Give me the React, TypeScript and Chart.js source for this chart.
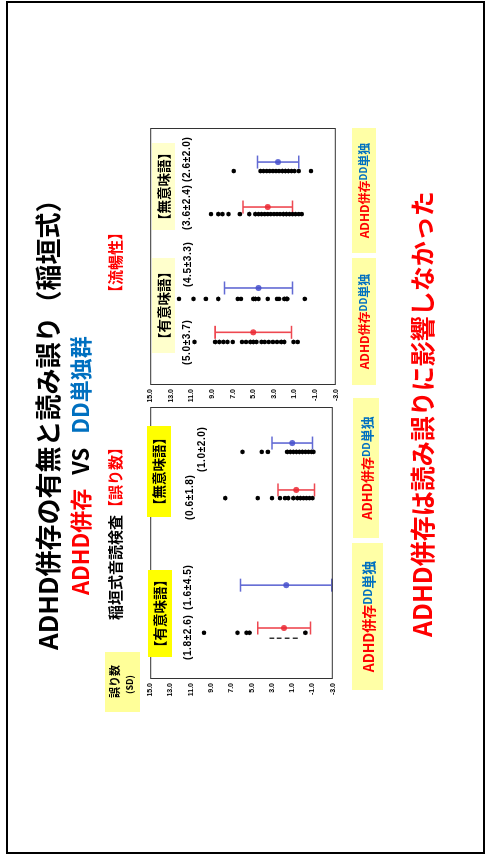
import React, { useEffect, useRef } from "react";
import { Chart, registerables } from "chart.js";

Chart.register(...registerables);

// Value axis (both panels)
const axisMin = -3;
const axisMax = 15;
const axisStep = 2;

// Word-type headings
const groupNames = ["【有意味語】", "【無意味語】"];

// Group order: ADHD併存・有意味語, DD単独・有意味語, ADHD併存・無意味語, DD単独・無意味語
const groupColors = ["rgba(235,40,50,0.85)", "rgba(70,80,205,0.85)", "rgba(235,40,50,0.85)", "rgba(70,80,205,0.85)"];

// 誤り数 — mean and SD per group
const errMeans = [1.8, 1.6, 0.6, 1.0];
const errSds = [2.6, 4.5, 1.8, 2.0];
// 誤り数 — individual values per group
const errAdhdMeaningful = [9.7, 6.4, 5.5, 5.2, -0.3];
const errAdhdMeaningfulHidden = [3.0, 2.3, 1.5, 0.7];
const errDdMeaningful: number[] = [];
const errAdhdNonword = [7.6, 4.4, 3.0, 2.2, 1.7, 1.4, 0.9, 0.5, 0.2, -0.1, -0.4, -0.7, -1.0];
const errDdNonword = [5.9, 4.0, 3.4, 1.5, 1.2, 0.9, 0.6, 0.3, 0.0, -0.3, -0.6, -0.9, -1.1];

// 流暢性 — mean and SD per group
const fluMeans = [5.0, 4.5, 3.6, 2.6];
const fluSds = [3.7, 3.3, 2.4, 2.0];
// 流暢性 — individual values per group
const fluAdhdMeaningful = [10.7, 8.7, 8.3, 7.9, 7.5, 7.0, 6.1, 5.7, 5.3, 5.0, 4.7, 4.2, 3.9, 3.5, 3.1, 2.7, 2.3, 2.0, 1.1, 0.7];
const fluDdMeaningful = [12.2, 10.8, 9.6, 8.4, 6.5, 6.2, 5.0, 4.8, 4.5, 3.6, 2.7, 2.5, 2.0, 1.8, 1.7, 0.0];
const fluAdhdNonword = [9.1, 8.4, 8.0, 7.4, 6.3, 5.4, 4.8, 4.5, 4.2, 3.9, 3.6, 3.3, 3.0, 2.7, 2.4, 2.1, 1.8, 1.5, 1.2, 0.9, 0.6, 0.3];
const fluDdNonword = [6.9, 4.3, 4.0, 3.7, 3.4, 3.1, 2.8, 2.5, 2.2, 1.9, 1.6, 1.3, 1.0, 0.6, -0.6];

// Horizontal slots inside each panel (x scale runs 0..4)
const errBarX = [0.75, 1.38, 2.78, 3.47];
const errDotX = [0.68, 1.3, 2.66, 3.34];
const errHiddenX = 0.6;
const fluBarX = [0.82, 1.51, 2.77, 3.47];
const fluDotX = [0.67, 1.34, 2.66, 3.33];

const RED = "#ff0000";
const BLUE = "#0070c0";
const CJK = '"Noto Sans CJK JP", "Noto Sans", sans-serif';

type PanelProps = {
  dots: number[][];
  dotX: number[];
  means: number[];
  sds: number[];
  barX: number[];
  hidden?: number[];
  hiddenX?: number;
  left: number;
  top: number;
  plotW: number;
  plotH: number;
};

const AXIS_W = 30;
const PAD = 6;

function Panel(p: PanelProps) {
  const ref = useRef<HTMLCanvasElement>(null);
  const cw = p.plotW + AXIS_W + PAD * 2;
  const ch = p.plotH + PAD * 2;

  useEffect(() => {
    if (!ref.current) return;
    const datasets: any[] = p.dots.map((vals, i) => ({
      data: vals.map((v) => ({ x: p.dotX[i], y: v })),
      pointRadius: 2.3,
      pointBackgroundColor: "#000",
      pointBorderWidth: 0,
      order: 2,
    }));
    if (p.hidden && p.hidden.length) {
      datasets.push({
        data: p.hidden.map((v) => ({ x: p.hiddenX, y: v })),
        pointStyle: "line",
        pointRotation: 90,
        pointRadius: 2.4,
        pointBorderColor: "#000",
        pointBorderWidth: 1.2,
        order: 2,
      });
    }
    datasets.push({
      data: p.means.map((m, i) => ({ x: p.barX[i], y: m })),
      pointRadius: 3,
      pointBackgroundColor: groupColors,
      pointBorderColor: groupColors,
      pointBorderWidth: 0,
      order: 1,
    });

    const errorBars = {
      id: "errorBars",
      beforeDatasetsDraw(chart: any) {
        const { ctx, scales } = chart;
        const xs = scales.x;
        const ys = scales.y;
        ctx.save();
        ctx.lineWidth = 1.6;
        p.means.forEach((m, i) => {
          const px = xs.getPixelForValue(p.barX[i]);
          const hi = ys.getPixelForValue(m + p.sds[i]);
          const lo = ys.getPixelForValue(m - p.sds[i]);
          ctx.strokeStyle = groupColors[i];
          ctx.beginPath();
          ctx.moveTo(px, hi);
          ctx.lineTo(px, lo);
          ctx.moveTo(px - 6.5, hi);
          ctx.lineTo(px + 6.5, hi);
          ctx.moveTo(px - 6.5, lo);
          ctx.lineTo(px + 6.5, lo);
          ctx.stroke();
        });
        ctx.restore();
      },
    };
    const frame = {
      id: "frame",
      afterDraw(chart: any) {
        const { ctx, chartArea: a } = chart;
        ctx.save();
        ctx.strokeStyle = "#333";
        ctx.lineWidth = 1;
        ctx.strokeRect(a.left + 0.5, a.top + 0.5, a.right - a.left - 1, a.bottom - a.top - 1);
        ctx.restore();
      },
    };

    const chart = new Chart(ref.current, {
      type: "scatter",
      data: { datasets },
      options: {
        responsive: false,
        animation: false,
        devicePixelRatio: 1,
        layout: { padding: { left: PAD, right: PAD, top: PAD, bottom: PAD } },
        plugins: { legend: { display: false }, tooltip: { enabled: false } },
        scales: {
          x: { type: "linear", min: 0, max: 4, display: false },
          y: {
            type: "linear",
            min: axisMin,
            max: axisMax,
            afterFit: (s: any) => {
              s.width = AXIS_W;
            },
            grid: { display: false, drawTicks: false },
            border: { display: false },
            ticks: {
              stepSize: axisStep,
              padding: 4,
              color: "#000",
              font: { family: "Liberation Sans", size: 7, weight: "bold" },
              callback: (v: any) => Number(v).toFixed(1),
            },
          },
        },
      },
      plugins: [errorBars, frame],
    } as any);
    return () => chart.destroy();
  }, []);

  return (
    <canvas
      ref={ref}
      width={cw}
      height={ch}
      style={{ position: "absolute", left: p.left - AXIS_W - PAD, top: p.top - PAD, width: cw, height: ch }}
    />
  );
}

function Txt(props: {
  l: number;
  t: number;
  size: number;
  color?: string;
  bold?: boolean;
  children: React.ReactNode;
  family?: string;
  spacing?: number;
}) {
  return (
    <div
      style={{
        position: "absolute",
        left: props.l,
        top: props.t,
        fontSize: props.size,
        fontWeight: props.bold ? 700 : 400,
        color: props.color || "#000",
        fontFamily: props.family || CJK,
        letterSpacing: props.spacing || 0,
        whiteSpace: "nowrap",
        lineHeight: 1,
      }}
    >
      {props.children}
    </div>
  );
}

function Box(props: { l: number; t: number; w: number; h: number; bg: string; size: number; children: React.ReactNode }) {
  return (
    <div
      style={{
        position: "absolute",
        left: props.l,
        top: props.t,
        width: props.w,
        height: props.h,
        background: props.bg,
        display: "flex",
        alignItems: "center",
        justifyContent: "center",
        fontSize: props.size,
        fontWeight: 700,
        fontFamily: CJK,
        whiteSpace: "nowrap",
        lineHeight: 1,
      }}
    >
      {props.children}
    </div>
  );
}

function GroupTag(props: { l: number; t: number; w: number; h: number; size: number }) {
  return (
    <Box l={props.l} t={props.t} w={props.w} h={props.h} bg="#ffffa6" size={props.size}>
      <span style={{ color: RED }}>ADHD併存</span>
      <span style={{ color: BLUE, fontSize: props.size * 0.8 }}>DD</span>
      <span style={{ color: BLUE }}>単独</span>
    </Box>
  );
}

const stat = '"Liberation Sans", sans-serif';

function Stat(props: { l: number; t: number; m: number; s: number }) {
  return (
    <Txt l={props.l} t={props.t} size={10} bold family={stat} spacing={0.6}>
      ({props.m.toFixed(1)}±{props.s.toFixed(1)})
    </Txt>
  );
}

export default function App() {
  return (
    <div
      style={{
        position: "fixed",
        left: 0,
        top: 0,
        width: 856,
        height: 485,
        background: "#fff",
        transformOrigin: "0 0",
        transform: "translate(0px, 856px) rotate(-90deg)",
        overflow: "hidden",
      }}
    >
      <div
        style={{
          position: "absolute",
          left: 2,
          top: 6,
          width: 853,
          height: 479,
          border: "2px solid #000",
          boxSizing: "border-box",
        }}
      />

      <Txt l={206} t={34} size={26} bold>
        ADHD併存の有無と読み誤り（稲垣式）
      </Txt>
      <Txt l={261} t={68} size={22} bold>
        <span style={{ color: RED }}>ADHD併存</span>
        <span style={{ color: "#000", margin: "0 14px" }}>VS</span>
        <span style={{ color: BLUE }}>DD単独群</span>
      </Txt>
      <Txt l={236} t={107} size={15} bold>
        稲垣式音読検査<span style={{ color: RED }}>【誤り数】</span>
      </Txt>
      <Txt l={556} t={107} size={15} bold color={RED}>
        【流暢性】
      </Txt>

      <div
        style={{
          position: "absolute",
          left: 144,
          top: 105,
          width: 60,
          height: 35,
          background: "#ffff99",
          fontFamily: CJK,
          fontWeight: 700,
          lineHeight: 1,
        }}
      >
        <div style={{ position: "absolute", left: 14, top: 4, fontSize: 11 }}>誤り数</div>
        <div style={{ position: "absolute", left: 18, top: 20, fontSize: 9 }}>(SD)</div>
      </div>

      <Panel
        dots={[errAdhdMeaningful, errDdMeaningful, errAdhdNonword, errDdNonword]}
        dotX={errDotX}
        means={errMeans}
        sds={errSds}
        barX={errBarX}
        hidden={errAdhdMeaningfulHidden}
        hiddenX={errHiddenX}
        left={177}
        top={148}
        plotW={272}
        plotH={187}
      />
      <Panel
        dots={[fluAdhdMeaningful, fluDdMeaningful, fluAdhdNonword, fluDdNonword]}
        dotX={fluDotX}
        means={fluMeans}
        sds={fluSds}
        barX={fluBarX}
        left={471}
        top={148}
        plotW={257}
        plotH={190}
      />

      <Box l={199} t={148} w={87} h={24} bg="#ffff00" size={13.5}>
        {groupNames[0]}
      </Box>
      <Box l={339} t={147} w={91} h={24} bg="#ffff00" size={13.5}>
        {groupNames[1]}
      </Box>
      <Box l={503} t={152} w={95} h={23} bg="#ffffcc" size={13.5}>
        {groupNames[0]}
      </Box>
      <Box l={626} t={152} w={87} h={23} bg="#ffffcc" size={13.5}>
        {groupNames[1]}
      </Box>

      <Stat l={196} t={183} m={errMeans[0]} s={errSds[0]} />
      <Stat l={246} t={183} m={errMeans[1]} s={errSds[1]} />
      <Stat l={336} t={185} m={errMeans[2]} s={errSds[2]} />
      <Stat l={384} t={197} m={errMeans[3]} s={errSds[3]} />
      <Stat l={491} t={182} m={fluMeans[0]} s={fluSds[0]} />
      <Stat l={569} t={183} m={fluMeans[1]} s={fluSds[1]} />
      <Stat l={626} t={182} m={fluMeans[2]} s={fluSds[2]} />
      <Stat l={674} t={182} m={fluMeans[3]} s={fluSds[3]} />

      <GroupTag l={166} t={352} w={147} h={31} size={14} />
      <GroupTag l={318} t={353} w={140} h={26} size={13} />
      <GroupTag l={471} t={352} w={127} h={24} size={12} />
      <GroupTag l={603} t={352} w={125} h={24} size={12} />

      <Txt l={219} t={409} size={25} bold color={RED}>
        ADHD併存は読み誤りに影響しなかった
      </Txt>
    </div>
  );
}
